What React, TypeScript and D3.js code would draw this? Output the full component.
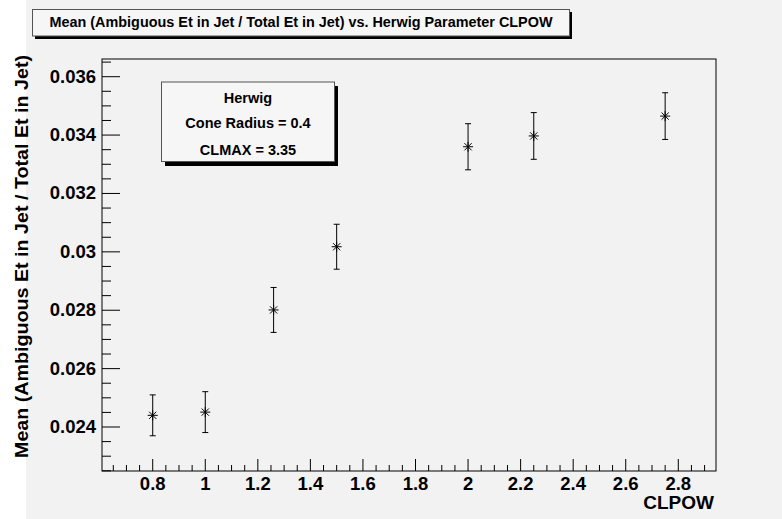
import React from "react";
import * as d3 from "d3";

const clpow = [0.8, 1.0, 1.26, 1.5, 2.0, 2.25, 2.75];
const meanRatio = [0.0244, 0.02451, 0.02801, 0.030175, 0.0336, 0.03397, 0.03465];
const errRatio = [0.0007, 0.0007, 0.00077, 0.00077, 0.00079, 0.0008, 0.0008];
const xTicks = [0.8, 1, 1.2, 1.4, 1.6, 1.8, 2, 2.2, 2.4, 2.6, 2.8];
const yTicks = [0.024, 0.026, 0.028, 0.03, 0.032, 0.034, 0.036];
const titleText = "Mean (Ambiguous Et in Jet / Total Et in Jet) vs. Herwig Parameter CLPOW";
const xTitle = "CLPOW";
const yTitle = "Mean (Ambiguous Et in Jet / Total Et in Jet)";
const legendLines = ["Herwig", "Cone Radius = 0.4", "CLMAX = 3.35"];

const W = 782, H = 519;
const F = { l: 102, r: 716, t: 59, b: 471 };
const FONT = "'Liberation Sans', Arial, Helvetica, sans-serif";
const BG = "#f2f2f2";

export default function App() {
  const x = d3.scaleLinear().domain([0.607, 2.9435]).range([F.l, F.r]);
  const y = d3.scaleLinear().domain([0.022493, 0.036606]).range([F.b, F.t]);

  const xMinor = d3.range(0, 60).map(i => 0.6 + i * 0.05).filter(v => x(v) >= F.l && x(v) <= F.r);
  const yMinor = d3.range(0, 40).map(i => 0.0225 + i * 0.0005).filter(v => y(v) >= F.t - 0.5 && y(v) <= F.b);
  const isMajorX = (v: number) => xTicks.some(t => Math.abs(t - v) < 1e-6);
  const isMajorY = (v: number) => yTicks.some(t => Math.abs(t - v) < 1e-7);

  const fmtY = (v: number) => String(+v.toFixed(3));
  const fmtX = (v: number) => String(+v.toFixed(1));

  return (
    <svg width={W} height={H} style={{ position: "fixed", left: 0, top: 0, display: "block" }}
      fontFamily={FONT}>
      <rect x={0} y={0} width={W} height={H} fill="#ffffff" />
      <rect x={26} y={0} width={W - 26} height={H} fill={BG} />

      {/* frame */}
      <rect x={F.l} y={F.t} width={F.r - F.l} height={F.b - F.t} fill={BG} stroke="#000" strokeWidth={1} />

      {/* x ticks */}
      {xMinor.map((v, i) => {
        const major = isMajorX(v);
        return <line key={"xm" + i} x1={x(v)} x2={x(v)} y1={F.b} y2={F.b - (major ? 12 : 6)} stroke="#000" strokeWidth={1} />;
      })}
      {xTicks.map((v, i) => (
        <text key={"xl" + i} x={x(v)} y={490} textAnchor="middle" fontSize={18.5} fontWeight="bold" fill="#000">{fmtX(v)}</text>
      ))}

      {/* y ticks */}
      {yMinor.map((v, i) => {
        const major = isMajorY(v);
        return <line key={"ym" + i} x1={F.l} x2={F.l + (major ? 18 : 9)} y1={y(v)} y2={y(v)} stroke="#000" strokeWidth={1} />;
      })}
      {yTicks.map((v, i) => (
        <text key={"yl" + i} x={96} y={y(v) + 6} textAnchor="end" fontSize={18.5} fontWeight="bold" fill="#000">{fmtY(v)}</text>
      ))}

      {/* axis titles */}
      <text x={714} y={509} textAnchor="end" fontSize={19} fontWeight="bold" fill="#000">{xTitle}</text>
      <text transform={`translate(28,55) rotate(-90)`} textAnchor="end" fontSize={18.5} fontWeight="bold" fill="#000"
        textLength={403} lengthAdjust="spacingAndGlyphs">{yTitle}</text>

      {/* error bars + markers */}
      {clpow.map((cx, i) => {
        const px = x(cx), py = y(meanRatio[i]);
        const yt = y(meanRatio[i] + errRatio[i]), yb = y(meanRatio[i] - errRatio[i]);
        const s = 5, d = 3.6;
        return (
          <g key={"p" + i} stroke="#000" strokeWidth={1}>
            <line x1={px} x2={px} y1={yt} y2={yb} />
            <line x1={px - 3} x2={px + 3} y1={yt} y2={yt} />
            <line x1={px - 3} x2={px + 3} y1={yb} y2={yb} />
            <line x1={px - s} x2={px + s} y1={py} y2={py} />
            <line x1={px} x2={px} y1={py - s} y2={py + s} />
            <line x1={px - d} x2={px + d} y1={py - d} y2={py + d} />
            <line x1={px - d} x2={px + d} y1={py + d} y2={py - d} />
          </g>
        );
      })}

      {/* title box */}
      <rect x={35} y={12} width={537} height={27} fill="#000" />
      <rect x={32.5} y={9.5} width={537} height={26.5} fill="#f6f6f6" stroke="#555" strokeWidth={1} />
      <text x={301} y={27.3} textAnchor="middle" fontSize={14} fontWeight="bold" fill="#000"
        textLength={503} lengthAdjust="spacingAndGlyphs">{titleText}</text>

      {/* legend box */}
      <rect x={165} y={86} width={173} height={80} fill="#000" />
      <rect x={161.5} y={82} width={173} height={79.5} fill="#f6f6f6" stroke="#555" strokeWidth={1} />
      {legendLines.map((t, i) => (
        <text key={"lg" + i} x={248} y={[102.7, 128.3, 155][i]} textAnchor="middle" fontSize={14.5} fontWeight="bold" fill="#000">{t}</text>
      ))}
    </svg>
  );
}
